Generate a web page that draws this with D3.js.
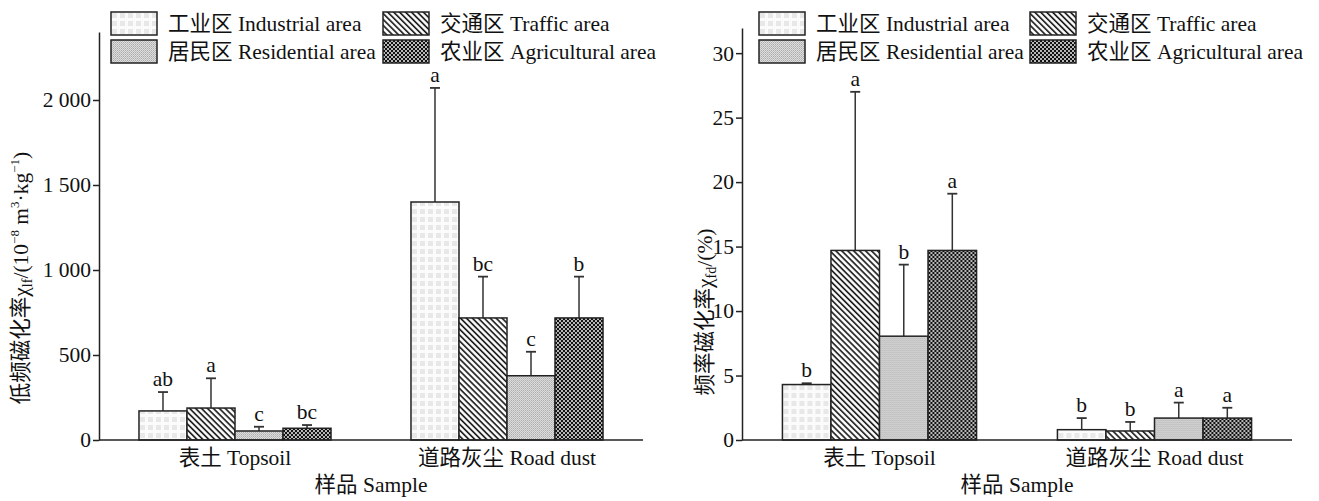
<!DOCTYPE html>
<html lang="zh">
  <head>
    <meta charset="UTF-8" />
    <title>磁化率</title>
    <style>
      body { margin: 0; background: #fff; }
      svg text {
        font-family: 'Liberation Serif', 'Noto Sans CJK SC', serif;
        font-size: 21.5px;
        fill: #111;
      }
      .axis path,
      .axis line {
        fill: none;
        stroke: #222;
        stroke-width: 1.5;
      }
      .axis text {
        font-family: 'Liberation Serif', 'Noto Sans CJK SC', serif;
        font-size: 21.5px;
      }
    </style>
    <script src="https://cdn.jsdelivr.net/npm/d3@7"></script>
  </head>
  <body>
    <svg width="1319" height="501"></svg>
    <script>
      var categories = ['表土 Topsoil', '道路灰尘 Road dust']
      var areas = ['工业区 Industrial area', '交通区 Traffic area', '居民区 Residential area', '农业区 Agricultural area']

      // low frequency susceptibility, per sample: industrial, traffic, residential, agricultural
      var lfMean = [[171, 188, 53, 69], [1400, 718, 378, 718]]
      var lfSd = [[111, 175, 25, 19], [671, 243, 141, 243]]
      var lfLetters = [['ab', 'a', 'c', 'bc'], ['a', 'bc', 'c', 'b']]
      var lfTicks = [0, 500, 1000, 1500, 2000]

      // frequency dependent susceptibility (%)
      var fdMean = [[4.3, 14.7, 8.05, 14.7], [0.8, 0.7, 1.7, 1.7]]
      var fdSd = [[0.1, 12.3, 5.55, 4.4], [0.9, 0.7, 1.2, 0.8]]
      var fdLetters = [['b', 'a', 'b', 'a'], ['b', 'b', 'a', 'a']]
      var fdTicks = [0, 5, 10, 15, 20, 25, 30]

      var svg = d3.select('svg')
      var defs = svg.append('defs')

      // fill patterns
      var p1 = defs.append('pattern').attr('id', 'pat0').attr('patternUnits', 'userSpaceOnUse')
        .attr('width', 8).attr('height', 8)
      p1.append('rect').attr('width', 8).attr('height', 8).attr('fill', '#fbfbfb')
      p1.append('rect').attr('x', 1).attr('y', 1).attr('width', 5).attr('height', 5).attr('fill', '#e8e8e8')

      var p2 = defs.append('pattern').attr('id', 'pat1').attr('patternUnits', 'userSpaceOnUse')
        .attr('width', 4.2).attr('height', 4.2).attr('patternTransform', 'rotate(45)')
      p2.append('rect').attr('width', 4.2).attr('height', 4.2).attr('fill', '#fff')
      p2.append('line').attr('x1', -1).attr('x2', 6).attr('y1', 1).attr('y2', 1)
        .attr('stroke', '#111').attr('stroke-width', 1.6)

      var p3 = defs.append('pattern').attr('id', 'pat2').attr('patternUnits', 'userSpaceOnUse')
        .attr('width', 2).attr('height', 2)
      p3.append('rect').attr('width', 2).attr('height', 2).attr('fill', '#dedede')
      p3.append('rect').attr('width', 1).attr('height', 1).attr('fill', '#ababab')
      p3.append('rect').attr('x', 1).attr('y', 1).attr('width', 1).attr('height', 1).attr('fill', '#bdbdbd')

      var p4 = defs.append('pattern').attr('id', 'pat3').attr('patternUnits', 'userSpaceOnUse')
        .attr('width', 4).attr('height', 4)
      p4.append('rect').attr('width', 4).attr('height', 4).attr('fill', '#111')
      p4.append('circle').attr('cx', 1).attr('cy', 1).attr('r', 0.95).attr('fill', '#fff')
      p4.append('circle').attr('cx', 3).attr('cy', 3).attr('r', 0.95).attr('fill', '#fff')

      var fmt = d3.formatLocale({ decimal: '.', thousands: ' ', grouping: [3], currency: ['', ''] }).format(',')

      function drawChart(o) {
        var g = svg.append('g')

        var y = d3.scaleLinear().domain([0, o.yMax]).range([o.y0, o.yTop])
        var x = d3.scaleBand().domain(categories).range([o.x0, o.x1])
          .paddingInner(0.294).paddingOuter(0.147)
        var xs = d3.scaleBand().domain(d3.range(areas.length)).range([0, x.bandwidth()])

        var groups = g.selectAll('.grp')
          .data(categories)
          .enter()
          .append('g')
          .attr('class', 'grp')
          .attr('transform', function(d) { return `translate(${x(d)},0)` })

        var cells = groups.selectAll('.cell')
          .data(function(d, i) {
            return o.mean[i].map(function(m, j) {
              return { j: j, m: m, sd: o.sd[i][j], t: o.letters[i][j] }
            })
          })
          .enter()
          .append('g')
          .attr('class', 'cell')

        // error bars behind the bars
        cells.append('line')
          .attr('x1', function(d) { return xs(d.j) + xs.bandwidth() / 2 })
          .attr('x2', function(d) { return xs(d.j) + xs.bandwidth() / 2 })
          .attr('y1', function(d) { return y(d.m) })
          .attr('y2', function(d) { return y(d.m + d.sd) })
          .attr('stroke', '#333').attr('stroke-width', 1.5)
        cells.append('line')
          .attr('x1', function(d) { return xs(d.j) + xs.bandwidth() / 2 - 5 })
          .attr('x2', function(d) { return xs(d.j) + xs.bandwidth() / 2 + 5 })
          .attr('y1', function(d) { return y(d.m + d.sd) })
          .attr('y2', function(d) { return y(d.m + d.sd) })
          .attr('stroke', '#333').attr('stroke-width', 1.8)

        cells.append('rect')
          .attr('x', function(d) { return xs(d.j) })
          .attr('y', function(d) { return y(d.m) })
          .attr('width', xs.bandwidth())
          .attr('height', function(d) { return y(0) - y(d.m) })
          .attr('fill', function(d) { return 'url(#pat' + d.j + ')' })
          .attr('stroke', '#222').attr('stroke-width', 1.5)

        cells.append('text')
          .attr('x', function(d) { return xs(d.j) + xs.bandwidth() / 2 })
          .attr('y', function(d) { return y(d.m + d.sd) - 6 })
          .attr('text-anchor', 'middle')
          .text(function(d) { return d.t })

        // axes
        g.append('g')
          .attr('class', 'axis')
          .attr('transform', `translate(${o.x0},0)`)
          .call(d3.axisLeft(y).tickValues(o.ticks).tickSize(6).tickSizeOuter(0).tickPadding(2).tickFormat(fmt))
          .call(function(a) { a.selectAll('text').attr('fill', '#111') })

        g.append('g')
          .attr('class', 'axis')
          .attr('transform', `translate(0,${o.y0})`)
          .call(d3.axisBottom(x).tickSize(0).tickSizeOuter(0).tickPadding(10))
          .call(function(a) { a.selectAll('text').attr('fill', '#111') })
        g.select('.axis:last-child path').attr('d', `M${o.x0},0H${o.x1}`)

        g.append('text')
          .attr('x', (o.x0 + o.x1) / 2)
          .attr('y', 492)
          .attr('text-anchor', 'middle')
          .text('样品 Sample')

        var yl = g.append('text')
          .attr('transform', `translate(${o.labelX},${o.labelY}) rotate(-90)`)
          .attr('text-anchor', 'middle')
        o.yLabel(yl)

        // legend
        var leg = g.selectAll('.leg')
          .data(areas)
          .enter()
          .append('g')
          .attr('class', 'leg')
          .attr('transform', function(d, i) {
            return `translate(${o.legX[i % 2]},${12 + Math.floor(i / 2) * 28})`
          })
        leg.append('rect')
          .attr('width', 46).attr('height', 23)
          .attr('fill', function(d, i) { return 'url(#pat' + i + ')' })
          .attr('stroke', '#222').attr('stroke-width', 1.5)
        leg.append('text')
          .attr('x', 57).attr('y', 19)
          .text(function(d) { return d })
      }

      drawChart({
        x0: 99, x1: 643, y0: 440, yTop: 32, yMax: 2400,
        mean: lfMean, sd: lfSd, letters: lfLetters, ticks: lfTicks,
        legX: [111, 383], labelX: 28, labelY: 278,
        yLabel: function(t) {
          t.append('tspan').text('低频磁化率χ')
          t.append('tspan').attr('font-size', 14).attr('baseline-shift', '-4').text('lf')
          t.append('tspan').text('/(10')
          t.append('tspan').attr('font-size', 13).attr('baseline-shift', '9').text('−8')
          t.append('tspan').text(' m')
          t.append('tspan').attr('font-size', 13).attr('baseline-shift', '9').text('3')
          t.append('tspan').text('·kg')
          t.append('tspan').attr('font-size', 13).attr('baseline-shift', '9').text('−1')
          t.append('tspan').text(')')
        }
      })

      drawChart({
        x0: 742, x1: 1292, y0: 440, yTop: 28, yMax: 31.95,
        mean: fdMean, sd: fdSd, letters: fdLetters, ticks: fdTicks,
        legX: [759, 1030], labelX: 712, labelY: 312,
        yLabel: function(t) {
          t.append('tspan').text('频率磁化率χ')
          t.append('tspan').attr('font-size', 14).attr('baseline-shift', '-4').text('fd')
          t.append('tspan').text('/(%)')
        }
      })
    </script>
  </body>
</html>
